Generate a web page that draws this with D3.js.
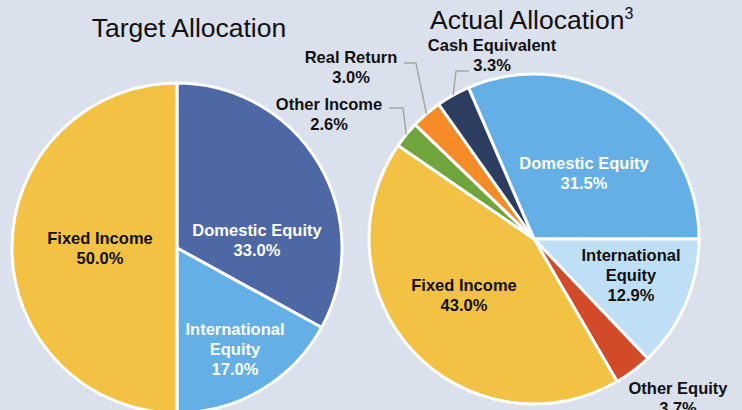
<!DOCTYPE html>
<html>
<head>
<meta charset="utf-8">
<script src="https://cdn.jsdelivr.net/npm/d3@7"></script>
<style>
  body { margin: 0; background: #dbe0ed; }
  svg { display: block; font-family: "Liberation Sans", Arial, sans-serif; }
</style>
</head>
<body>
<svg id="chart" width="742" height="410"></svg>
<script>
// Target allocation (clockwise from 12 o'clock)
var targetNames = ["Domestic Equity", "International Equity", "Fixed Income"];
var targetValues = [33.0, 17.0, 50.0];
var targetColors = ["#4e67a5", "#63afe6", "#f3c244"];

// Actual allocation (clockwise, domestic equity ends at 3 o'clock)
var actualNames = ["Domestic Equity", "International Equity", "Other Equity", "Fixed Income",
                   "Other Income", "Real Return", "Cash Equivalent"];
var actualValues = [31.5, 12.9, 3.7, 43.0, 2.6, 3.0, 3.3];
var actualColors = ["#63afe6", "#bedff5", "#d24a28", "#f3c244", "#6fa53a", "#f68b27", "#2d3d60"];

var svg = d3.select("#chart");
var radius = 165;

// label layout relative to pie centre; elbow/start = leader line for outside labels
var targetLabels = {
  "Domestic Equity": { lines: ["Domestic Equity", "33.0%"], x: 80, y: -12, fill: "#fff" },
  "International Equity": { lines: ["International", "Equity", "17.0%"], x: 58, y: 87, fill: "#fff" },
  "Fixed Income": { lines: ["Fixed Income", "50.0%"], x: -77, y: -4, fill: "#111" }
};
var actualLabels = {
  "Domestic Equity": { lines: ["Domestic Equity", "31.5%"], x: 50, y: -70, fill: "#fff" },
  "International Equity": { lines: ["International", "Equity", "12.9%"], x: 97, y: 22, fill: "#111" },
  "Other Equity": { lines: ["Other Equity", "3.7%"], x: 144, y: 155, fill: "#111" },
  "Fixed Income": { lines: ["Fixed Income", "43.0%"], x: -70, y: 52, fill: "#111" },
  "Other Income": { lines: ["Other Income", "2.6%"], x: -205, y: -129, fill: "#111",
                    elbow: [-131, -131], start: [-145, -131] },
  "Real Return": { lines: ["Real Return", "3.0%"], x: -183, y: -176, fill: "#111",
                   elbow: [-118, -176], start: [-130, -176] },
  "Cash Equivalent": { lines: ["Cash Equivalent", "3.3%"], x: -42, y: -188, fill: "#111",
                       elbow: [-78, -168], start: [-65, -168] }
};

function drawPie(cx, cy, names, values, colors, startAngle, labels) {
  var g = svg.append("g").attr("transform", "translate(" + cx + "," + cy + ")");
  var pie = d3.pie().sort(null).value(function(d) { return d.value; })
    .startAngle(startAngle).endAngle(startAngle + 2 * Math.PI);
  var data = names.map(function(n, i) { return { name: n, value: values[i], color: colors[i] }; });
  var arcs = pie(data);
  var arc = d3.arc().innerRadius(0).outerRadius(radius);

  g.selectAll("path.slice")
    .data(arcs)
    .enter()
    .append("path")
      .attr("class", "slice")
      .attr("d", arc)
      .attr("fill", function(d) { return d.data.color; })
      .attr("stroke", "#fff")
      .attr("stroke-width", 3)
      .attr("stroke-linejoin", "round");

  // leader lines for small slices
  arcs.forEach(function(d) {
    var lab = labels[d.data.name];
    if (!lab.elbow) return;
    var mid = (d.startAngle + d.endAngle) / 2;
    var ex = Math.sin(mid) * radius, ey = -Math.cos(mid) * radius;
    g.append("polyline")
      .attr("points", [lab.start, lab.elbow, [ex, ey]].map(function(p) { return p.join(","); }).join(" "))
      .attr("fill", "none")
      .attr("stroke", "#a6a6a6")
      .attr("stroke-width", 1.5);
  });

  arcs.forEach(function(d) {
    var lab = labels[d.data.name];
    var t = g.append("text")
      .attr("text-anchor", "middle")
      .attr("font-weight", "bold")
      .attr("font-size", "16.5px")
      .attr("fill", lab.fill);
    lab.lines.forEach(function(line, i) {
      t.append("tspan")
        .attr("x", lab.x)
        .attr("y", lab.y + i * 20)
        .text(line);
    });
  });
}

drawPie(177, 248, targetNames, targetValues, targetColors, 0, targetLabels);

// domestic equity ends at 3 o'clock
var actualStart = Math.PI / 2 - actualValues[0] / d3.sum(actualValues) * 2 * Math.PI;
drawPie(534, 239, actualNames, actualValues, actualColors, actualStart, actualLabels);

// titles
svg.append("text")
  .attr("x", 189).attr("y", 37)
  .attr("text-anchor", "middle")
  .attr("font-size", "26.5px")
  .attr("fill", "#111")
  .text("Target Allocation");

var t2 = svg.append("text")
  .attr("x", 430).attr("y", 29)
  .attr("font-size", "26.5px")
  .attr("fill", "#111")
  .text("Actual Allocation");
t2.append("tspan")
  .attr("dy", -10)
  .attr("font-size", "16px")
  .text("3");
</script>
</body>
</html>
